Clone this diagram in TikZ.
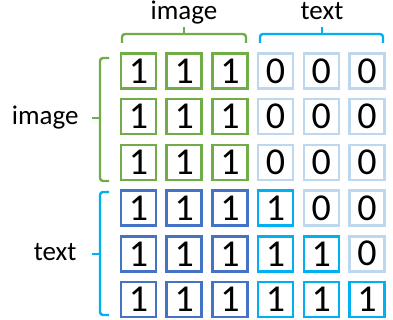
\documentclass[tikz,border=0pt]{standalone}
\usepackage{fontspec}
\setmainfont{Carlito}
\usetikzlibrary{positioning}
\definecolor{imggreen}{RGB}{112,173,71}
\definecolor{txtblue}{RGB}{68,114,196}
\definecolor{txtcyan}{RGB}{0,176,240}
\definecolor{maskblue}{RGB}{189,215,238}

\begin{document}
\begin{tikzpicture}[x=1pt,y=-1pt,node distance=45.7pt,
  cell/.style={draw,line width=2.6pt,minimum size=35pt,inner sep=0pt,font=\fontsize{38}{38}\selectfont},
  img cell/.style={cell,draw=imggreen},
  txt cell/.style={cell,draw=txtblue},
  seen cell/.style={cell,draw=txtcyan},
  mask cell/.style={cell,draw=maskblue},
  bracket/.style={line width=2.4pt,rounded corners=3pt},
  label/.style={font=\fontsize{27}{27}\selectfont}]

  \useasboundingbox (0,0) rectangle (393,320);

  % image rows
  \node[img cell] (r1c1) at (138.5,71) {1};
  \node[img cell] (r1c2) [right of=r1c1] {1};
  \node[img cell] (r1c3) [right of=r1c2] {1};
  \node[mask cell] (r1c4) [right of=r1c3] {0};
  \node[mask cell] (r1c5) [right of=r1c4] {0};
  \node[mask cell] (r1c6) [right of=r1c5] {0};

  \node[img cell] (r2c1) [below of=r1c1] {1};
  \node[img cell] (r2c2) [right of=r2c1] {1};
  \node[img cell] (r2c3) [right of=r2c2] {1};
  \node[mask cell] (r2c4) [right of=r2c3] {0};
  \node[mask cell] (r2c5) [right of=r2c4] {0};
  \node[mask cell] (r2c6) [right of=r2c5] {0};

  \node[img cell] (r3c1) [below of=r2c1] {1};
  \node[img cell] (r3c2) [right of=r3c1] {1};
  \node[img cell] (r3c3) [right of=r3c2] {1};
  \node[mask cell] (r3c4) [right of=r3c3] {0};
  \node[mask cell] (r3c5) [right of=r3c4] {0};
  \node[mask cell] (r3c6) [right of=r3c5] {0};

  % text rows
  \node[txt cell] (r4c1) [below of=r3c1] {1};
  \node[txt cell] (r4c2) [right of=r4c1] {1};
  \node[txt cell] (r4c3) [right of=r4c2] {1};
  \node[seen cell] (r4c4) [right of=r4c3] {1};
  \node[mask cell] (r4c5) [right of=r4c4] {0};
  \node[mask cell] (r4c6) [right of=r4c5] {0};

  \node[txt cell] (r5c1) [below of=r4c1] {1};
  \node[txt cell] (r5c2) [right of=r5c1] {1};
  \node[txt cell] (r5c3) [right of=r5c2] {1};
  \node[seen cell] (r5c4) [right of=r5c3] {1};
  \node[seen cell] (r5c5) [right of=r5c4] {1};
  \node[mask cell] (r5c6) [right of=r5c5] {0};

  \node[txt cell] (r6c1) [below of=r5c1] {1};
  \node[txt cell] (r6c2) [right of=r6c1] {1};
  \node[txt cell] (r6c3) [right of=r6c2] {1};
  \node[seen cell] (r6c4) [right of=r6c3] {1};
  \node[seen cell] (r6c5) [right of=r6c4] {1};
  \node[seen cell] (r6c6) [right of=r6c5] {1};

  % brackets and labels
  \draw[bracket,imggreen] (122,43) |- (246,34) -- (246,43);
  \draw[bracket,imggreen] (184,34) -- (184,27);
  \draw[bracket,txtcyan] (260,43) |- (383,34) -- (383,43);
  \draw[bracket,txtcyan] (322,34) -- (322,27);
  \draw[bracket,imggreen] (109,58) -| (100,181) -- (109,181);
  \draw[bracket,imggreen] (100,118) -- (92,118);
  \draw[bracket,txtcyan] (109,192) -| (100,315) -- (109,315);
  \draw[bracket,txtcyan] (100,254) -- (92,254);

  \node[label,anchor=base] (top image) at (184,20) {image};
  \node[label,anchor=base] (top text) at (322,20) {text};
  \node[label,anchor=base east] (side image) at (82,125) {image};
  \node[label,anchor=base east] (side text) at (80,260) {text};

\end{tikzpicture}
\end{document}
